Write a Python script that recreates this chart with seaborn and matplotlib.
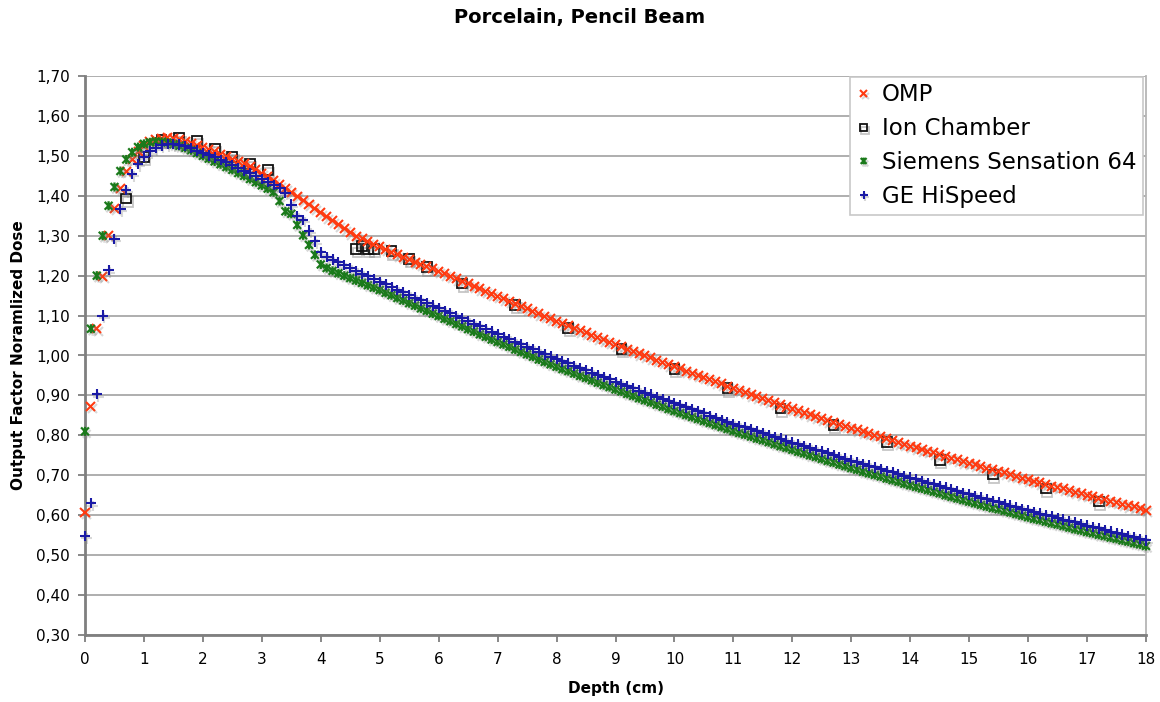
import matplotlib
matplotlib.use("Agg")
import numpy as np
import pandas as pd
import seaborn as sns
import matplotlib.pyplot as plt
from matplotlib.path import Path
import matplotlib.patheffects as pe

# ---------------- data ----------------
depth = np.round(np.arange(181) * 0.1, 1)  # 0.0 ... 18.0 cm, 0.1 cm grid

omp = [
    0.608, 0.873, 1.067, 1.198, 1.300, 1.369, 1.419, 1.461, 1.490, 1.510,
    1.525, 1.535, 1.541, 1.544, 1.545, 1.543, 1.540, 1.536, 1.531, 1.526,
    1.521, 1.516, 1.510, 1.504, 1.498, 1.492, 1.486, 1.480, 1.473, 1.465,
    1.457, 1.448, 1.438, 1.428, 1.419, 1.409, 1.399, 1.389, 1.379, 1.369,
    1.358, 1.347, 1.337, 1.327, 1.317, 1.307, 1.299, 1.292, 1.285, 1.279,
    1.273, 1.266, 1.259, 1.252, 1.246, 1.240, 1.234, 1.228, 1.222, 1.217,
    1.211, 1.205, 1.198, 1.192, 1.186, 1.180, 1.173, 1.167, 1.161, 1.154,
    1.148, 1.142, 1.136, 1.129, 1.123, 1.117, 1.111, 1.105, 1.098, 1.092,
    1.086, 1.080, 1.074, 1.068, 1.062, 1.057, 1.051, 1.045, 1.039, 1.033,
    1.027, 1.022, 1.016, 1.011, 1.005, 1.000, 0.994, 0.988, 0.983, 0.977,
    0.972, 0.967, 0.961, 0.956, 0.950, 0.945, 0.940, 0.934, 0.929, 0.923,
    0.918, 0.913, 0.908, 0.902, 0.897, 0.892, 0.887, 0.882, 0.876, 0.871,
    0.866, 0.861, 0.856, 0.852, 0.847, 0.842, 0.837, 0.832, 0.828, 0.823,
    0.818, 0.814, 0.809, 0.805, 0.800, 0.796, 0.791, 0.787, 0.782, 0.778,
    0.773, 0.769, 0.764, 0.760, 0.756, 0.752, 0.747, 0.743, 0.739, 0.734,
    0.730, 0.726, 0.722, 0.718, 0.714, 0.710, 0.706, 0.701, 0.697, 0.693,
    0.689, 0.685, 0.681, 0.677, 0.673, 0.670, 0.666, 0.662, 0.658, 0.654,
    0.650, 0.646, 0.643, 0.639, 0.635, 0.632, 0.628, 0.624, 0.621, 0.617,
    0.613,
]

siemens = [
    0.810, 1.067, 1.200, 1.300, 1.375, 1.422, 1.462, 1.491, 1.509, 1.522,
    1.530, 1.534, 1.536, 1.535, 1.533, 1.529, 1.525, 1.520, 1.514, 1.507,
    1.500, 1.493, 1.486, 1.479, 1.472, 1.465, 1.457, 1.450, 1.442, 1.434,
    1.426, 1.418, 1.409, 1.387, 1.361, 1.355, 1.327, 1.301, 1.277, 1.252,
    1.228, 1.219, 1.212, 1.206, 1.200, 1.194, 1.188, 1.182, 1.176, 1.170,
    1.164, 1.157, 1.151, 1.144, 1.138, 1.131, 1.125, 1.118, 1.112, 1.105,
    1.099, 1.092, 1.086, 1.079, 1.073, 1.066, 1.060, 1.053, 1.047, 1.040,
    1.034, 1.028, 1.022, 1.015, 1.009, 1.003, 0.997, 0.990, 0.984, 0.978,
    0.972, 0.966, 0.961, 0.955, 0.949, 0.944, 0.938, 0.932, 0.926, 0.921,
    0.915, 0.910, 0.904, 0.899, 0.893, 0.888, 0.883, 0.877, 0.872, 0.866,
    0.861, 0.856, 0.851, 0.846, 0.841, 0.836, 0.831, 0.826, 0.821, 0.816,
    0.811, 0.806, 0.802, 0.797, 0.792, 0.788, 0.783, 0.778, 0.773, 0.769,
    0.764, 0.759, 0.755, 0.750, 0.746, 0.741, 0.736, 0.732, 0.727, 0.723,
    0.718, 0.714, 0.709, 0.705, 0.701, 0.697, 0.692, 0.688, 0.684, 0.679,
    0.675, 0.671, 0.667, 0.663, 0.659, 0.655, 0.650, 0.646, 0.642, 0.638,
    0.634, 0.630, 0.626, 0.622, 0.618, 0.615, 0.611, 0.607, 0.603, 0.599,
    0.595, 0.591, 0.588, 0.584, 0.580, 0.577, 0.573, 0.569, 0.565, 0.562,
    0.558, 0.555, 0.551, 0.548, 0.544, 0.541, 0.537, 0.534, 0.530, 0.527,
    0.523,
]

ge = [
    0.548, 0.630, 0.903, 1.100, 1.214, 1.292, 1.367, 1.415, 1.455, 1.480,
    1.498, 1.511, 1.520, 1.526, 1.529, 1.530, 1.528, 1.524, 1.519, 1.513,
    1.507, 1.501, 1.496, 1.490, 1.484, 1.477, 1.470, 1.463, 1.456, 1.449,
    1.442, 1.435, 1.427, 1.419, 1.408, 1.378, 1.350, 1.340, 1.313, 1.286,
    1.258, 1.247, 1.240, 1.233, 1.226, 1.219, 1.212, 1.205, 1.198, 1.191,
    1.184, 1.178, 1.171, 1.164, 1.158, 1.151, 1.145, 1.138, 1.132, 1.125,
    1.119, 1.112, 1.106, 1.099, 1.093, 1.086, 1.079, 1.073, 1.066, 1.060,
    1.053, 1.047, 1.041, 1.034, 1.028, 1.022, 1.016, 1.010, 1.003, 0.997,
    0.991, 0.985, 0.980, 0.974, 0.968, 0.963, 0.957, 0.951, 0.946, 0.940,
    0.934, 0.929, 0.923, 0.918, 0.912, 0.907, 0.902, 0.896, 0.891, 0.885,
    0.880, 0.875, 0.870, 0.865, 0.860, 0.855, 0.849, 0.844, 0.839, 0.834,
    0.829, 0.824, 0.820, 0.815, 0.810, 0.806, 0.801, 0.796, 0.792, 0.787,
    0.782, 0.778, 0.773, 0.769, 0.764, 0.760, 0.755, 0.751, 0.746, 0.742,
    0.737, 0.733, 0.728, 0.724, 0.720, 0.716, 0.711, 0.707, 0.703, 0.698,
    0.694, 0.690, 0.686, 0.681, 0.677, 0.673, 0.669, 0.665, 0.660, 0.656,
    0.652, 0.648, 0.644, 0.640, 0.636, 0.632, 0.628, 0.624, 0.620, 0.616,
    0.612, 0.608, 0.604, 0.601, 0.597, 0.593, 0.589, 0.585, 0.582, 0.578,
    0.574, 0.570, 0.567, 0.563, 0.559, 0.556, 0.552, 0.548, 0.545, 0.541,
    0.537,
]

ion_depth = [0.7, 1.0, 1.3, 1.6, 1.9, 2.2, 2.5, 2.8, 3.1, 4.6, 4.7, 4.8, 4.9,
             5.2, 5.5, 5.8, 6.4, 7.3, 8.2, 9.1, 10.0, 10.9, 11.8, 12.7, 13.6,
             14.5, 15.4, 16.3, 17.2]
ion_dose = [1.393, 1.498, 1.540, 1.544, 1.538, 1.518, 1.498, 1.480, 1.465,
            1.267, 1.275, 1.267, 1.267, 1.261, 1.242, 1.221, 1.180, 1.127,
            1.069, 1.017, 0.967, 0.918, 0.867, 0.826, 0.784, 0.738, 0.702,
            0.667, 0.634]

series_names = ["OMP", "Ion Chamber", "Siemens Sensation 64", "GE HiSpeed"]
x_ticks = list(range(0, 19))
y_ticks = [0.30, 0.40, 0.50, 0.60, 0.70, 0.80, 0.90, 1.00, 1.10, 1.20,
           1.30, 1.40, 1.50, 1.60, 1.70]
y_tick_labels = ["0,30", "0,40", "0,50", "0,60", "0,70", "0,80", "0,90",
                 "1,00", "1,10", "1,20", "1,30", "1,40", "1,50", "1,60", "1,70"]

# ---------------- style ----------------
sns.set_theme(style="white")
plt.rcParams["font.family"] = ["DejaVu Sans"]
plt.rcParams["text.color"] = "black"
plt.rcParams["axes.labelcolor"] = "black"
plt.rcParams["xtick.color"] = "black"
plt.rcParams["ytick.color"] = "black"

W, H = 1160, 702
fig = plt.figure(figsize=(W / 100, H / 100), dpi=100)
fig.patch.set_facecolor("white")
ax = fig.add_axes([85 / W, 1 - 635 / H, 1061 / W, 559 / H])

# star marker: X with a vertical bar
star = Path([(-1, -1), (1, 1), (-1, 1), (1, -1), (0, -1.15), (0, 1.15)],
            [Path.MOVETO, Path.LINETO, Path.MOVETO, Path.LINETO,
             Path.MOVETO, Path.LINETO])

def shadow(off=(1.2, -1.8), alpha=0.3):
    return [pe.SimpleLineShadow(offset=off, shadow_color="#808080", alpha=alpha),
            pe.Normal()]

df_omp = pd.DataFrame({"depth": depth, "dose": omp})
df_sie = pd.DataFrame({"depth": depth, "dose": siemens})
df_ge = pd.DataFrame({"depth": depth, "dose": ge})
df_ion = pd.DataFrame({"depth": ion_depth, "dose": ion_dose})

common = dict(linestyle="none", clip_on=False, estimator=None, sort=False)

c_omp, c_ion, c_sie, c_ge = "#ff3a10", "#111111", "#1b7a1b", "#1a1aa6"

sns.lineplot(data=df_omp, x="depth", y="dose", ax=ax, label=series_names[0],
             marker="x", markersize=6.5, markeredgewidth=1.5, color=c_omp,
             markeredgecolor=c_omp, path_effects=shadow(), zorder=3, **common)
sns.lineplot(data=df_ion, x="depth", y="dose", ax=ax, label=series_names[1],
             marker="s", markersize=7, markeredgewidth=1.3, markerfacecolor="none",
             markeredgecolor=c_ion, color=c_ion,
             path_effects=shadow((1.0, -2.5), 0.45), zorder=2, **common)
sns.lineplot(data=df_sie, x="depth", y="dose", ax=ax, label=series_names[2],
             marker=star, markersize=6.5, markeredgewidth=1.6, color=c_sie,
             markeredgecolor=c_sie, path_effects=shadow(), zorder=3, **common)
sns.lineplot(data=df_ge, x="depth", y="dose", ax=ax, label=series_names[3],
             marker="+", markersize=7.5, markeredgewidth=1.5, color=c_ge,
             markeredgecolor=c_ge, path_effects=shadow(), zorder=4, **common)

# ---------------- axes ----------------
ax.set_xlim(0, 18)
ax.set_ylim(0.30, 1.70)
ax.set_xticks(x_ticks)
ax.set_xticklabels([str(t) for t in x_ticks])
ax.set_yticks(y_ticks)
ax.set_yticklabels(y_tick_labels)
ax.yaxis.grid(True, color="#a8a8a8", linewidth=1.3)
ax.xaxis.grid(False)
ax.set_axisbelow(True)

for side in ["left", "bottom"]:
    ax.spines[side].set_color("#7f7f7f")
    ax.spines[side].set_linewidth(2.0)
ax.spines["top"].set_visible(False)
ax.spines["right"].set_color("#b5b5b5")
ax.spines["right"].set_linewidth(1.3)

ax.tick_params(axis="both", which="both", bottom=True, left=True,
               direction="out", length=5, width=1.3, color="#7f7f7f",
               labelsize=11, labelcolor="black")
ax.tick_params(axis="y", pad=6)
ax.tick_params(axis="x", pad=7)

ax.set_xlabel("Depth (cm)", fontsize=11, fontweight="bold", labelpad=10, color="black")
ax.set_ylabel("Output Factor Noramlized Dose", fontsize=11, fontweight="bold",
              labelpad=7, color="black")

fig.text(0.5, 1 - 18 / H, "Porcelain, Pencil Beam", ha="center", va="center",
         fontsize=14, fontweight="bold", color="black")

leg = ax.legend(loc="upper right", bbox_to_anchor=(0.9975, 0.999), borderaxespad=0,
                fontsize=16.5, markerscale=0.75, numpoints=1, handlelength=0.6,
                handletextpad=0.5, labelspacing=0.47, borderpad=0.3,
                frameon=True, fancybox=False, shadow=False)
leg.get_frame().set_edgecolor("#c8c8c8")
leg.get_frame().set_linewidth(1.2)
leg.get_frame().set_facecolor("white")
leg.get_frame().set_alpha(1.0)
for t in leg.get_texts():
    t.set_color("black")
leg.set_zorder(10)

fig.savefig("out.png", dpi=100, facecolor="white")
